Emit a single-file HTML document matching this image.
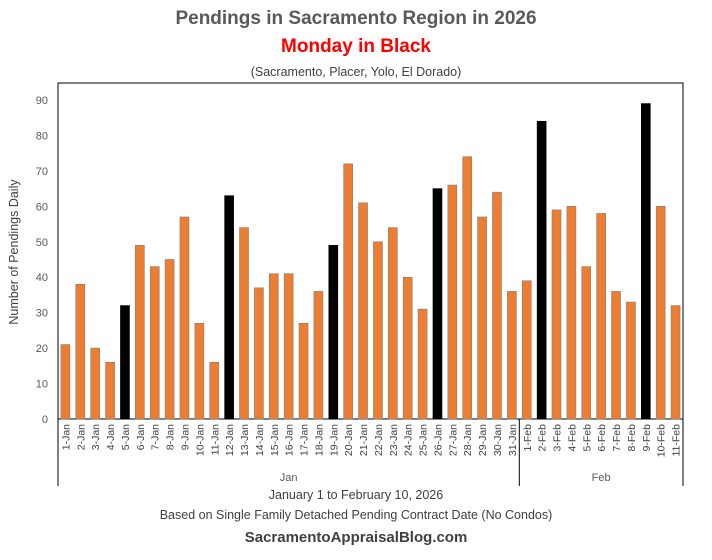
<!DOCTYPE html>
<html><head><meta charset="utf-8"><style>
body{margin:0;background:#fff;width:712px;height:555px;overflow:hidden;font-family:"Liberation Sans",sans-serif}
</style></head><body>
<svg width="712" height="555" xmlns="http://www.w3.org/2000/svg" id="chart">
<text x="356" y="24" text-anchor="middle" font-size="19" font-weight="bold" fill="#595959">Pendings in Sacramento Region in 2026</text>
<text x="356" y="52" text-anchor="middle" font-size="19" font-weight="bold" fill="#ff0000">Monday in Black</text>
<text x="356" y="76" text-anchor="middle" font-size="12.5" fill="#404040">(Sacramento, Placer, Yolo, El Dorado)</text>
<rect x="58" y="83" width="625" height="336" fill="none" stroke="#000" stroke-width="1"/>
<text transform="translate(18,252) rotate(-90)" text-anchor="middle" font-size="12.5" fill="#404040">Number of Pendings Daily</text>
<text x="356" y="499" text-anchor="middle" font-size="12.5" fill="#404040">January 1 to February 10, 2026</text>
<text x="356" y="519" text-anchor="middle" font-size="12.5" fill="#404040">Based on Single Family Detached Pending Contract Date (No Condos)</text>
<text x="356" y="542" text-anchor="middle" font-size="15" font-weight="bold" fill="#404040">SacramentoAppraisalBlog.com</text>
<g id="yaxis"></g><g id="bars"></g><g id="xaxis"></g>
</svg>
<script>
const categories=["1-Jan","2-Jan","3-Jan","4-Jan","5-Jan","6-Jan","7-Jan","8-Jan","9-Jan","10-Jan","11-Jan","12-Jan","13-Jan","14-Jan","15-Jan","16-Jan","17-Jan","18-Jan","19-Jan","20-Jan","21-Jan","22-Jan","23-Jan","24-Jan","25-Jan","26-Jan","27-Jan","28-Jan","29-Jan","30-Jan","31-Jan","1-Feb","2-Feb","3-Feb","4-Feb","5-Feb","6-Feb","7-Feb","8-Feb","9-Feb","10-Feb","11-Feb"];
const values=[21,38,20,16,32,49,43,45,57,27,16,63,54,37,41,41,27,36,49,72,61,50,54,40,31,65,66,74,57,64,36,39,84,59,60,43,58,36,33,89,60,32];
const mondays=["5-Jan","12-Jan","19-Jan","26-Jan","2-Feb","9-Feb"];
const yTicks=[0,10,20,30,40,50,60,70,80,90];
const months=["Jan","Feb"];
const NS="http://www.w3.org/2000/svg";
const L=58,R=683,T=83,B=419,YMAX=94.8;
const slot=(R-L)/categories.length;
const y=v=>B-v/YMAX*(B-T);
const x=i=>L+slot*i;
function mk(tag,attrs,parent){const e=document.createElementNS(NS,tag);for(const k in attrs)e.setAttribute(k,attrs[k]);parent.appendChild(e);return e;}
const ya=document.getElementById('yaxis'),bg=document.getElementById('bars'),xa=document.getElementById('xaxis');
yTicks.forEach(t=>{
 const tx=mk('text',{x:L-10,y:y(t)+4,'text-anchor':'end','font-size':'11',fill:'#595959'},ya);
 tx.textContent=t;
 
 
});
categories.forEach((c,i)=>{
 const r=mk('rect',{x:x(i)+slot/2-4.5,y:y(values[i]),width:9,height:B-y(values[i]),fill:mondays.includes(c)?'#000':'#ed7d31',stroke:mondays.includes(c)?'#000':'#7f7f7f','stroke-width':'0.6'},bg);
 
 
 const cx=x(i)+slot/2+4;
 const t=mk('text',{transform:`translate(${cx},424) rotate(-90)`,'text-anchor':'end','font-size':'10.5',fill:'#404040'},xa);
 t.textContent=c;
 
 
});
const split=categories.indexOf("1-Feb");
[[0,split],[split,categories.length]].forEach((g,gi)=>{
 const m=mk('text',{x:(x(g[0])+x(g[1]))/2,y:481,'text-anchor':'middle','font-size':'11',fill:'#595959'},xa);
 m.textContent=months[gi];
 
 
});
[L,x(split),R].forEach(px=>{const l=mk('line',{x1:px,x2:px,y1:419,y2:486,stroke:'#000','stroke-width':'1'},xa);
 
 });
</script>
</body></html>
